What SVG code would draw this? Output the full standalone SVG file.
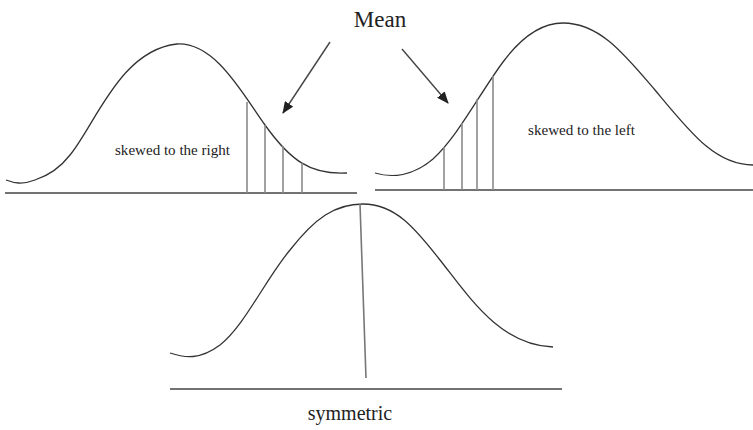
<svg xmlns="http://www.w3.org/2000/svg" width="753" height="430" viewBox="0 0 753 430">
<style>
.curve{fill:none;stroke:#333;stroke-width:1.3}
.axis{stroke:#444;stroke-width:1.6}
.mark{stroke:#8a8a8a;stroke-width:1.6}
.arrow{stroke:#444;stroke-width:1.4;marker-end:url(#ah)}
.lbl{font-family:"Liberation Serif","Times New Roman",serif;fill:#222}
</style>
<defs>
<marker id="ah" viewBox="0 0 12 10" refX="11" refY="5" markerWidth="12" markerHeight="10" markerUnits="userSpaceOnUse" orient="auto">
<path d="M0,0 L12,5 L0,10 Z" fill="#222"/>
</marker>
</defs>
<rect width="753" height="430" fill="#fff"/>
<g id="title">
<text class="lbl" x="380" y="27" font-size="23" text-anchor="middle">Mean</text>
</g>
<g id="skewed-right">
<path class="curve" d="M6,180 C14,183 22,185 35,180 C50,175 60,168 70,155 C95,125 120,50 177,44 C215,42 242,93 265,125 C290,160 310,175 347,173"/>
<line class="axis" x1="5" y1="193" x2="357" y2="193"/>
<line class="mark" x1="247" y1="102" x2="247" y2="193"/>
<line class="mark" x1="265" y1="125" x2="265" y2="193"/>
<line class="mark" x1="283" y1="146" x2="283" y2="193"/>
<line class="mark" x1="302" y1="163" x2="302" y2="193"/>
<text class="lbl" x="115" y="155" font-size="14" textLength="115" lengthAdjust="spacingAndGlyphs">skewed to the right</text>
</g>
<g id="skewed-left">
<path class="curve" d="M375,173 C392,178 413,176 433,159 C458,136 478,96 503,62 C523,35 542,23 563,23 C600,23 625,55 655,90 C690,132 715,165 753,165"/>
<line class="axis" x1="375" y1="190" x2="753" y2="190"/>
<line class="mark" x1="444" y1="147" x2="444" y2="190"/>
<line class="mark" x1="462" y1="123" x2="462" y2="190"/>
<line class="mark" x1="477" y1="99" x2="477" y2="190"/>
<line class="mark" x1="493" y1="76" x2="493" y2="190"/>
<text class="lbl" x="528" y="135" font-size="14" textLength="107" lengthAdjust="spacingAndGlyphs">skewed to the left</text>
</g>
<g id="symmetric">
<path class="curve" d="M170,353 C185,358 200,360 220,345 C245,325 265,280 290,250 C315,218 335,204 363,204 C395,204 415,228 440,260 C470,298 500,345 553,347"/>
<line class="mark" x1="360" y1="204" x2="366" y2="378" style="stroke:#777"/>
<line class="axis" x1="170" y1="389" x2="562" y2="389"/>
<text class="lbl" x="350" y="420" font-size="20" text-anchor="middle">symmetric</text>
</g>
<g id="connectors">
<line class="arrow" x1="330" y1="42" x2="283" y2="113"/>
<line class="arrow" x1="402" y1="49" x2="448" y2="103"/>
</g>
</svg>
